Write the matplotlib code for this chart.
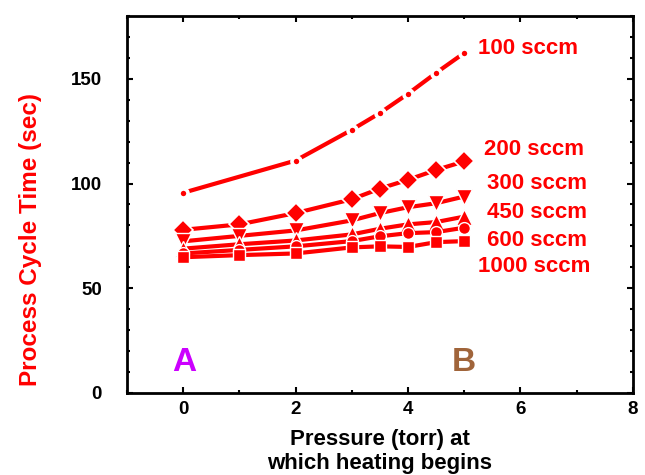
import matplotlib
matplotlib.use("Agg")
import matplotlib.pyplot as plt
from matplotlib.ticker import MultipleLocator

plt.rcParams['font.family'] = ['Liberation Sans', 'DejaVu Sans']
plt.rcParams['font.weight'] = 'bold'

# pressure (torr) at which heating begins
x_100 = [0, 2, 3, 3.5, 4, 4.5, 5]
x_all = [0, 1, 2, 3, 3.5, 4, 4.5, 5]

# process cycle time (sec) per flow rate
t_100 = [95.6, 111.0, 125.7, 133.7, 142.9, 152.9, 162.4]
t_200 = [77.9, 80.5, 85.9, 92.5, 97.6, 101.8, 106.5, 110.6]
t_300 = [72.4, 75.0, 77.6, 82.4, 85.9, 88.7, 90.6, 93.8]
t_450 = [68.9, 71.0, 72.8, 75.7, 78.4, 80.5, 81.6, 84.2]
t_600 = [66.6, 68.3, 70.0, 72.5, 74.8, 76.3, 76.8, 78.9]
t_1000 = [64.8, 65.8, 66.6, 69.5, 70.0, 69.7, 72.0, 72.5]

labels = ['100 sccm', '200 sccm', '300 sccm', '450 sccm', '600 sccm', '1000 sccm']
label_x = [5.24, 5.36, 5.4, 5.4, 5.4, 5.24]
label_y = [164.5, 116.5, 100.0, 86.3, 72.8, 60.3]

red = '#ff0000'

fig = plt.figure(figsize=(6.45, 4.75), dpi=100)
ax = fig.add_axes([0.197, 0.173, 0.784, 0.793])

ax.plot(x_100, t_100, color=red, lw=3, marker='o', ms=6.5, mfc=red, mec='white', mew=2.6)
ax.plot(x_all, t_200, color=red, lw=3, marker='D', ms=10, mfc=red, mec='white', mew=1.2)
ax.plot(x_all, t_300, color=red, lw=3, marker='v', ms=11.5, mfc=red, mec='white', mew=1.0)
ax.plot(x_all, t_450, color=red, lw=3, marker='^', ms=11.5, mfc=red, mec='white', mew=1.0)
ax.plot(x_all, t_600, color=red, lw=3, marker='o', ms=8.5, mfc=red, mec='white', mew=1.0)
ax.plot(x_all, t_1000, color=red, lw=3, marker='s', ms=8, mfc=red, mec='white', mew=1.0)

for lab, lx, ly in zip(labels, label_x, label_y):
    ax.text(lx, ly, lab, color=red, fontsize=16, fontweight='bold', ha='left', va='center')

ax.text(0.02, 14.3, 'A', color='#cc00ff', fontsize=24, fontweight='bold', ha='center', va='center')
ax.text(4.99, 14.3, 'B', color='#a0643a', fontsize=24, fontweight='bold', ha='center', va='center')

ax.set_xlim(-1, 8)
ax.set_ylim(0, 180)
ax.xaxis.set_major_locator(MultipleLocator(2))
ax.xaxis.set_minor_locator(MultipleLocator(1))
ax.yaxis.set_major_locator(MultipleLocator(50))
ax.yaxis.set_minor_locator(MultipleLocator(10))

for s in ax.spines.values():
    s.set_linewidth(2)
ax.tick_params(which='both', direction='in', top=True, right=True, width=1.5, labelsize=13.5)
ax.tick_params(which='major', length=4)
ax.tick_params(which='minor', length=2)
ax.tick_params(axis='y', pad=18)
ax.tick_params(axis='x', pad=6)

ax.set_xlabel('Pressure (torr) at\nwhich heating begins', fontsize=16, fontweight='bold', linespacing=1.2)
ax.xaxis.set_label_coords(0.5, -0.095, transform=ax.transAxes)
ax.xaxis.label.set_va('top')
ax.set_ylabel('Process Cycle Time (sec)', fontsize=17.5, fontweight='bold', color=red)
ax.yaxis.set_label_coords(-0.168, 0.406)

fig.savefig('out.png', dpi=100)
